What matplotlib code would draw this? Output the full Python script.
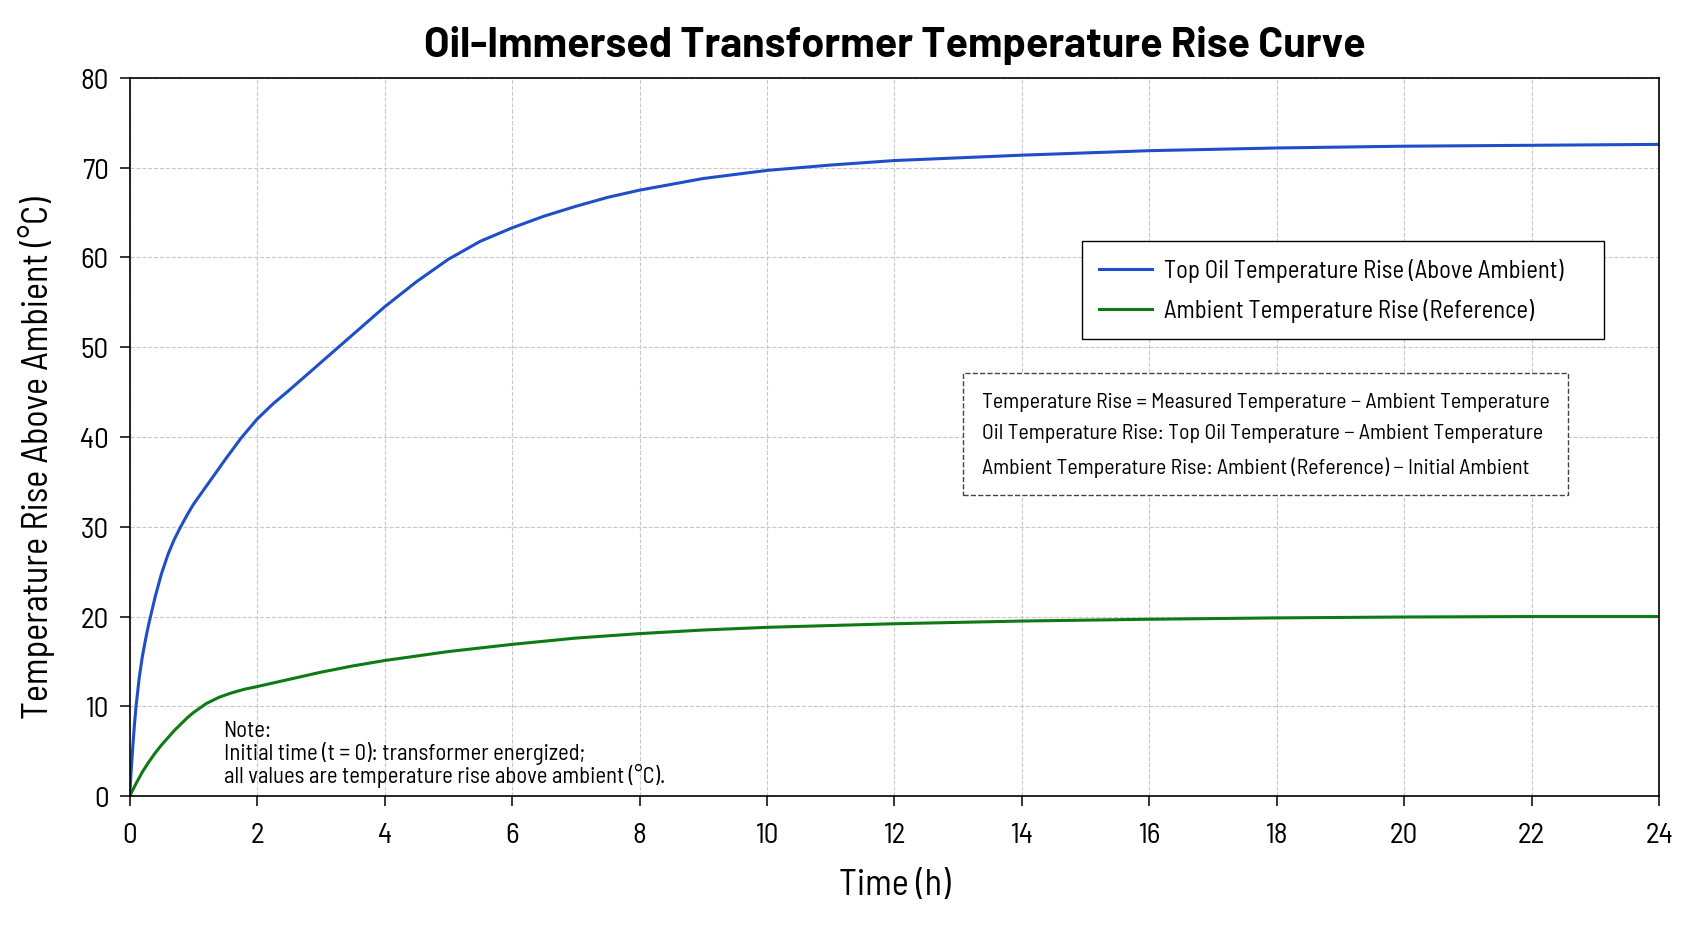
import matplotlib
matplotlib.use("Agg")
import matplotlib.pyplot as plt

# Time axis (h) and temperature rise above ambient (°C)
time_top_oil = [0, 0.025, 0.05, 0.075, 0.1, 0.15, 0.2, 0.25, 0.3, 0.4, 0.5, 0.6, 0.7, 0.8, 0.9,
                1.0, 1.25, 1.5, 1.75, 2.0, 2.25, 2.5, 3.0, 3.5, 4.0, 4.5, 5.0, 5.5, 6.0,
                6.5, 7.0, 7.5, 8.0, 9.0, 10.0, 11.0, 12.0, 14.0, 16.0, 18.0, 20.0, 22.0, 24.0]
top_oil_rise = [0, 3.0, 5.6, 8.0, 10.0, 13.2, 15.6, 17.5, 19.2, 22.2, 24.8, 26.9, 28.6, 30.0, 31.3,
                32.5, 35.0, 37.5, 39.9, 42.0, 43.7, 45.2, 48.3, 51.4, 54.5, 57.3, 59.8, 61.8, 63.3,
                64.6, 65.7, 66.7, 67.5, 68.8, 69.7, 70.3, 70.8, 71.4, 71.9, 72.2, 72.4, 72.5, 72.6]

time_ambient = [0, 0.1, 0.2, 0.3, 0.4, 0.5, 0.6, 0.7, 0.8, 0.9, 1.0, 1.2, 1.4, 1.6, 1.8, 2.0,
                2.25, 2.5, 2.75, 3.0, 3.5, 4.0, 5.0, 6.0, 7.0, 8.0, 9.0, 10.0, 12.0, 14.0,
                16.0, 18.0, 20.0, 22.0, 24.0]
ambient_rise = [0, 1.4, 2.7, 3.8, 4.8, 5.7, 6.5, 7.3, 8.0, 8.7, 9.3, 10.3, 11.0, 11.5, 11.9, 12.2,
                12.6, 13.0, 13.4, 13.8, 14.5, 15.1, 16.1, 16.9, 17.6, 18.1, 18.5, 18.8, 19.2, 19.5,
                19.7, 19.85, 19.95, 20.0, 20.0]

series_labels = ["Top Oil Temperature Rise (Above Ambient)", "Ambient Temperature Rise (Reference)"]
x_ticks = list(range(0, 25, 2))
y_ticks = list(range(0, 81, 10))

formula_lines = [
    "Temperature Rise = Measured Temperature \u2212 Ambient Temperature",
    "Oil Temperature Rise: Top Oil Temperature \u2212 Ambient Temperature",
    "Ambient Temperature Rise: Ambient (Reference) \u2212 Initial Ambient",
]
note_lines = [
    "Note:",
    "Initial time (t = 0): transformer energized;",
    "all values are temperature rise above ambient (\u00b0C).",
]

plt.rcParams['font.family'] = ['Barlow Semi Condensed', 'DejaVu Sans']

fig, ax = plt.subplots(figsize=(16.93, 9.29), dpi=100)
fig.subplots_adjust(left=0.0766, right=0.980, top=0.915, bottom=0.142)

ax.plot(time_top_oil, top_oil_rise, color='#1F4FC8', lw=2.2, label=series_labels[0])
ax.plot(time_ambient, ambient_rise, color='#0D7A14', lw=2.2, label=series_labels[1])

ax.set_xlim(0, 24)
ax.set_ylim(0, 80)
ax.set_xticks(x_ticks)
ax.set_yticks(y_ticks)
ax.tick_params(axis='both', labelsize=21, length=7, width=1.1, direction='out')
ax.tick_params(axis='x', pad=12)
ax.tick_params(axis='y', pad=8)
ax.grid(True, linestyle='--', color='#c8c8c8', lw=0.8)
for sp in ax.spines.values():
    sp.set_color('black')
    sp.set_linewidth(1.2)

ax.set_title("Oil-Immersed Transformer Temperature Rise Curve",
             fontsize=29.7, fontweight='bold', pad=16,
             family=['Barlow', 'DejaVu Sans'])
ax.set_xlabel("Time (h)", fontsize=26, labelpad=14)
ax.set_ylabel("Temperature Rise Above Ambient (\u00b0C)", fontsize=26)
ax.yaxis.set_label_coords(-0.049, 0.472)

# legend stretched to the box width seen in the reference, entries left-aligned
leg = ax.legend(loc='upper left', bbox_to_anchor=(0.6225, 0.0, 0.3414, 0.773), mode='expand',
                fontsize=17.7, fancybox=False, framealpha=1, edgecolor='black', borderaxespad=0,
                borderpad=0.7, labelspacing=0.65, handlelength=2.15, handletextpad=0.5)
leg.get_frame().set_linewidth(1.0)

ax.text(0.557, 0.504, "\n".join(formula_lines), transform=ax.transAxes,
        ha='left', va='center', fontsize=15.7, linespacing=1.85,
        bbox=dict(boxstyle='square,pad=0.85', facecolor='white',
                  edgecolor='#444444', linestyle='--', lw=1.0))

ax.text(0.0614, 0.012, "\n".join(note_lines), transform=ax.transAxes,
        ha='left', va='bottom', fontsize=16.3, linespacing=0.98)

fig.savefig("out.png", dpi=100)
